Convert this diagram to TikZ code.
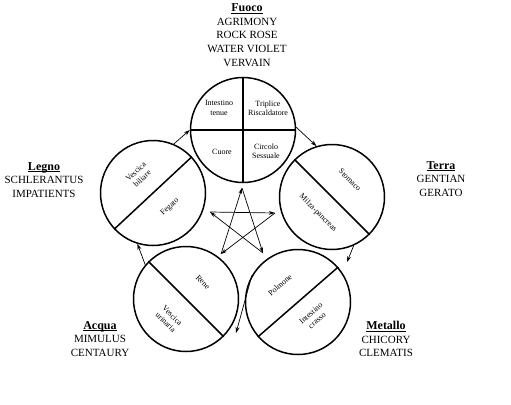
\documentclass[tikz,border=0pt]{standalone}
\usepackage{fontspec}
\setmainfont{Liberation Serif}
\usetikzlibrary{arrows.meta}
\newcommand\myhead[1]{{\fontsize{12}{13.6}\selectfont\bfseries\setbox0\hbox{#1}\rlap{\rule[-1.6pt]{\wd0}{0.6pt}}\box0}}
\begin{document}
\begin{tikzpicture}[x=1pt,y=-1pt,
  elem/.style={circle,draw,line width=1.5pt,minimum size=105pt,inner sep=0pt},
  divline/.style={line width=1.5pt},
  organ/.style={font=\fontsize{8}{9.3}\selectfont,align=center,inner sep=0pt},
  elemtext/.style={font=\fontsize{11}{13.6}\selectfont,align=center,inner sep=0pt},
  flow/.style={line width=0.7pt,-{Stealth[length=6pt,width=4pt]}},
  star/.style={line width=0.7pt,-{Stealth[length=6pt,width=3.6pt]}}
]
\useasboundingbox (0,0) rectangle (511,404);

% circles
\node[elem] (F) at (243,130) {};
\node[elem] (T) at (332,197) {};
\node[elem] (M) at (298,302) {};
\node[elem] (A) at (186,299) {};
\node[elem] (L) at (153,193) {};

% dividing lines
\draw[divline] (F.north) -- (F.south);
\draw[divline] (F.west) -- (F.east);
\draw[divline] (T.135) -- (T.-45);
\draw[divline] (M.41) -- (M.221);
\draw[divline] (A.135) -- (A.-45);
\draw[divline] (L.43) -- (L.223);

% organ labels
\node[organ] (f1) at (219,108) {Intestino\\tenue};
\node[organ] (f2) at (268,108) {Triplice\\Riscaldatore};
\node[organ] (f3) at (222,152) {Cuore};
\node[organ] (f4) at (266,151) {Circolo\\Sessuale};
\node[organ,rotate=-45] (t1) at (350,180) {Stomaco};
\node[organ,rotate=-45] (t2) at (318,213) {Milza-pancreas};
\node[organ,rotate=41] (m1) at (280,285) {Polmone};
\node[organ,rotate=41] (m2) at (314,317) {Intestino\\crasso};
\node[organ,rotate=-45] (a1) at (203,282) {Rene};
\node[organ,rotate=-45] (a2) at (169,319) {Vescica\\urinaria};
\node[organ,rotate=43] (l1) at (139,175) {Vescica\\biliare};
\node[organ,rotate=43] (l2) at (170,207) {Fegato};

% element texts
\node[elemtext] (tF) at (247,35) {\myhead{Fuoco}\\AGRIMONY\\ROCK ROSE\\WATER VIOLET\\VERVAIN};
\node[elemtext] (tT) at (441,179) {\myhead{Terra}\\GENTIAN\\GERATO};
\node[elemtext] (tM) at (386,339) {\myhead{Metallo}\\CHICORY\\CLEMATIS};
\node[elemtext] (tA) at (100,339) {\myhead{Acqua}\\MIMULUS\\CENTAURY};
\node[elemtext] (tL) at (44,180) {\myhead{Legno}\\SCHLERANTUS\\IMPATIENTS};

% cycle arrows
\coordinate (tm) at (347,262);
\coordinate (ma) at (236,333);
\draw[flow] (F.3) -- (T.107);
\draw[flow] (T.-66) -- (tm);
\draw[flow] (M.150) -- (ma);
\draw[flow] (A.140) -- (L.-107);
\draw[flow] (L.67) -- (F.180);

% pentagram
\coordinate (p1) at (242,188);
\coordinate (p2) at (275,213);
\coordinate (p3) at (263,253);
\coordinate (p4) at (221,254);
\coordinate (p5) at (210,212);
\draw[star] (p1) -- (p3);
\draw[star] (p3) -- (p5);
\draw[star] (p5) -- (p2);
\draw[star] (p2) -- (p4);
\draw[star] (p4) -- (p1);
\end{tikzpicture}
\end{document}
